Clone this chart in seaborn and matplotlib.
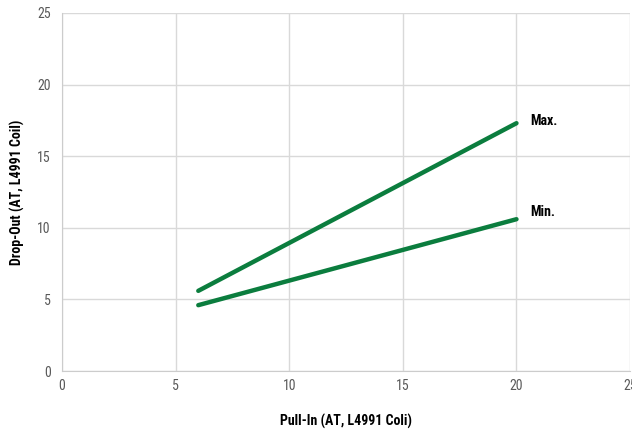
import pandas as pd
import seaborn as sns
import matplotlib.pyplot as plt

# values
pull_in = [6, 20]
drop_out_max = [5.6, 17.3]
drop_out_min = [4.6, 10.6]
ticks = [0, 5, 10, 15, 20, 25]

df = pd.DataFrame({
    'pull_in': pull_in * 2,
    'drop_out': drop_out_max + drop_out_min,
    'series': ['Max.'] * 2 + ['Min.'] * 2,
})

sns.set_style('white')
plt.rcParams['font.family'] = ['Roboto Condensed', 'Liberation Sans Narrow', 'Roboto', 'DejaVu Sans']

green = '#0b7d3e'
fig = plt.figure(figsize=(6.32, 4.29), dpi=100)
ax = fig.add_axes([0.098, 0.135, 0.899, 0.835])

sns.lineplot(data=df, x='pull_in', y='drop_out', hue='series',
             palette=[green, green], linewidth=3.2, legend=False, ax=ax,
             solid_capstyle='round')

ax.set_xlim(0, 25)
ax.set_ylim(0, 25)
ax.set_xticks(ticks)
ax.set_yticks(ticks)
ax.grid(True, color='#d9d9d9', linewidth=1)
ax.set_axisbelow(True)
for side in ['top', 'right']:
    ax.spines[side].set_visible(False)
for side in ['left', 'bottom']:
    ax.spines[side].set_color('#cccccc')
ax.tick_params(axis='both', length=0, labelsize=10, colors='#595959')
ax.tick_params(axis='x', pad=6)
ax.tick_params(axis='y', pad=8)

ax.set_xlabel('Pull-In (AT, L4991 Coli)', fontsize=10, fontweight='bold',
              color='black', labelpad=15)
ax.set_ylabel('Drop-Out (AT, L4991 Coil)', fontsize=10, fontweight='bold',
              color='black', labelpad=9)

for name, vals, dy in [('Max.', drop_out_max, 1.5), ('Min.', drop_out_min, 5)]:
    ax.annotate(name, (pull_in[-1], vals[-1]), xytext=(10, dy),
                textcoords='offset points', fontsize=10, fontweight='bold',
                color='black', va='center', ha='left')

fig.savefig('out.png', dpi=100)
